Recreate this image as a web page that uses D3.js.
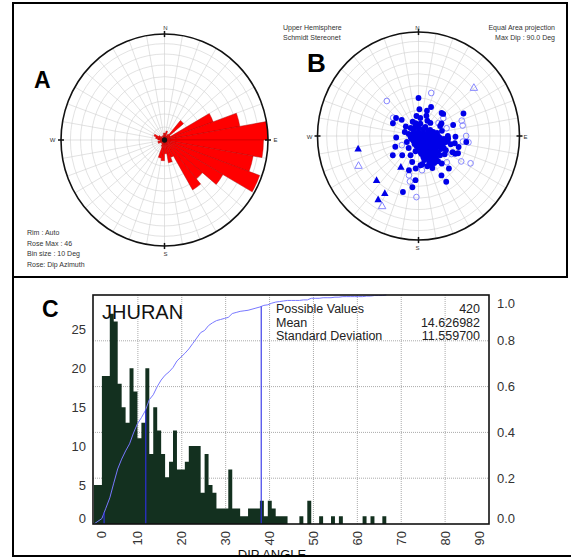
<!DOCTYPE html>
<html>
<head>
<meta charset="utf-8">
<script src="https://cdn.jsdelivr.net/npm/d3@7"></script>
<style>
body { margin: 0; background: #fff; }
text { font-family: "Liberation Sans", Arial, sans-serif; }
</style>
</head>
<body>
<script>
// ---- A: rose of dip azimuth, counts per 10 deg bin (0-10 ... 350-360)
var roseCounts = [3,4,2,3,11,3,23,34,46,44,40,45,30,22,25,8,10,6,9,8,3,2,1,2,3,3,2,3,4,5,3,2,1,2,2,3];
var roseMax = 46;
var roseInfo = ["Rim : Auto", "Rose Max : 46", "Bin size : 10 Deg", "Rose: Dip Azimuth"];

// ---- B: poles [azimuth, dip]
var filledCircles = [[0,30],[24,25],[2,21],[19,21],[46,26],[64,41],[308,23],[313,18.5],[296,23],[306,12.6],
  [347,10.3],[43,14],[62,21],[91,30],[266,18],[246,20.5],[234,25.7],[221,20],[203,16.3],[194,21],
  [185,25.7],[196,28],[184,35],[187,41],[196,46.6],[149,36.4],[148,43],[136,35.7],[113,35],[101,30],
  [97,39.4],[105,33.8],[94,24],[139,28.7],[157,25],[176,23],[115,33],[49,26.5],[73,29.4],
  [315,8.9],[343,8.2],[9,9.6],[38,9],[63,10.5],[281,8],[301,4.6],[0,3.1],[59,4.6],[79,8],
  [86,11.8],[90,15.7],[247,6],[225,2.2],[124,2.8],[111,6.7],[103,10.5],[102.5,14.5],[102,18.5],[102,22.6],
  [207,7],[172,5.6],[143,7.9],[129,11.2],[119,14.5],[115,18.3],[115,22.6],[180,10.2],[159,10.9],[144,13.5],
  [135,16.7],[129,20.2],[170.5,14.3],[157,16.2],[147,18.8],[141,22.4],[166,19.4],[157,22.2],[149,24.8],[90,23.7],
  [104,26.9],[78,19.3],[243,10.5],[6,14.2],[31,13.8],[337,12],[172,22.3],[156,27.6],[286,11.5],[220,12.3],
  [124,25.6],[66,19.1],[354,15.8],[22,17],[115,30.5],
  [324.5,6.8],[0,6.3],[35.5,6.8],[63.4,8.8],[75,12.2],[81,15.1],[262.9,6.4],[270,2.4],[90,1.6],[90,5.5],
  [90,9.4],[93.4,13.4],[95.2,17.4],[96.6,20.7],[225,5.6],[180,3.9],[135,5.6],[121,9.2],[111.8,12.7],[109.3,16.7],
  [107.7,20.7],[191.3,8],[163.3,8.2],[144,10.7],[130.2,13.4],[123.7,17],[119.5,20.8],[172.9,12.7],[156.4,13.8],[144.8,16.4],
  [136.6,19.6],[130.8,23],[166.6,17],[155.6,19.1],[146.9,21.7],[163.3,24.8],[141.3,25.3],[191.3,12.1],[97.6,23.9],[116.6,24.8]];
var openCircles = [[17,35.6],[317,38],[305,25],[55,24.5],[71,37.3],[77,37],[75,23.5],[90,39],[97,41.3],[242,15.2],
  [120,40.4],[117,48.3],[132,31],[194,32],[191,36.7],[182,49.1],[174,27],[58,19],[97,36.5],[118,30.3]];
var filledTriangles = [[258,51.2],[224,50],[211,54.5],[213,62.5],[210,28.6]];
var openTriangles = [[50,60.8],[244,55.7],[208,65.7]];

// ---- C: dip angle histogram, 0.9 deg bins from 0
var binSize = 0.9;
var dipCounts = [5,5,19,19,27,26,18,15,13,20, 17,11,13,20,9,15,12,9,6,8,
  12,7,7,8,10,10,10,4,9,5, 4,2,2,2,7,2,2,1,1,2, 2,2,3,1,3,2,1,1,1,0,
  0,0,1,0,3,0,0,1,0,0, 1,0,1,0,0,0,0,0,1,0, 1,0,0,1];
var pctLevels = [0.05, 0.5, 0.95];
var pctDips = [2.3, 11.8, 38.1];
var xTicks = [0,10,20,30,40,50,60,70,80,90];
var countTicks = [0,5,10,15,20,25];
var fracTicks = [0,0.2,0.4,0.6,0.8,1.0];
var statNames = ["Possible Values", "Mean", "Standard Deviation"];
var statValues = ["420", "14.626982", "11.559700"];

var svg = d3.select("body").append("svg")
  .attr("width", 571).attr("height", 557);

svg.append("rect").attr("width", 571).attr("height", 557).attr("fill", "#fff");

var rad = Math.PI / 180;

// ---------- stereonet grid helper
function netGrid(g, R) {
  var ea = d3.scaleLinear().domain([0, 1]).range([0, R]);
  var rings = d3.range(10, 90, 10);
  g.selectAll(".ring").data(rings).enter().append("circle")
    .attr("r", function(d) { return ea(Math.SQRT2 * Math.sin(d / 2 * rad)); })
    .attr("fill", "none").attr("stroke", "#cfcfcf").attr("stroke-width", 0.6);
  g.selectAll(".spoke").data(d3.range(0, 360, 10)).enter().append("line")
    .attr("x1", 0).attr("y1", 0)
    .attr("x2", function(d) { return R * Math.sin(d * rad); })
    .attr("y2", function(d) { return -R * Math.cos(d * rad); })
    .attr("stroke", "#cfcfcf").attr("stroke-width", 0.6);
}
function netRim(g, R) {
  g.append("circle").attr("r", R).attr("fill", "none").attr("stroke", "#111").attr("stroke-width", 1.6);
  [0, 90, 180, 270].forEach(function(a) {
    g.append("line")
      .attr("x1", (R - 3) * Math.sin(a * rad)).attr("y1", -(R - 3) * Math.cos(a * rad))
      .attr("x2", (R + 3) * Math.sin(a * rad)).attr("y2", -(R + 3) * Math.cos(a * rad))
      .attr("stroke", "#111").attr("stroke-width", 1.5);
  });
}
function compass(cx, cy, pos) {
  var names = ["N", "E", "S", "W"];
  names.forEach(function(n, i) {
    svg.append("text").attr("x", cx + pos[i][0]).attr("y", cy + pos[i][1])
      .attr("text-anchor", "middle").attr("dy", "0.35em")
      .attr("font-size", 6).attr("fill", "#333").text(n);
  });
}

// ---------- A: rose
var RA = 103.5;
var gA = svg.append("g").attr("transform", "translate(164.5,140) scale(1,1.024)");
netGrid(gA, RA);
var rRose = d3.scaleLinear().domain([0, roseMax]).range([0, RA]);
var arc = d3.arc()
  .innerRadius(0)
  .outerRadius(function(d) { return rRose(d); })
  .startAngle(function(d, i) { return i * 10 * rad; })
  .endAngle(function(d, i) { return (i + 1) * 10 * rad; });
gA.selectAll(".petal").data(roseCounts).enter().append("path")
  .attr("d", function(d, i) { return arc(d, i); })
  .attr("fill", "#ff0000").attr("stroke", "#b00000").attr("stroke-width", 0.4);
gA.append("circle").attr("r", 2.6).attr("fill", "#111");
netRim(gA, RA);
compass(164.5, 140, [[1, -112], [111, 0], [1, 114], [-112, 0]]);

svg.selectAll(".rinfo").data(roseInfo).enter().append("text")
  .attr("x", 27).attr("y", function(d, i) { return 235 + i * 10.7; })
  .attr("font-size", 7).attr("fill", "#333").text(function(d) { return d; });

// ---------- B: stereonet
var RB = 101;
var gB = svg.append("g").attr("transform", "translate(418.5,136) scale(1,1.03)");
netGrid(gB, RB);
netRim(gB, RB);
var ea = d3.scaleLinear().domain([0, 1]).range([0, RB]);
function px(d) { return ea(Math.SQRT2 * Math.sin(d[1] / 2 * rad)) * Math.sin(d[0] * rad); }
function py(d) { return -ea(Math.SQRT2 * Math.sin(d[1] / 2 * rad)) * Math.cos(d[0] * rad); }
var tri = d3.symbol().type(d3.symbolTriangle).size(24);

gB.selectAll(".oc").data(openCircles).enter().append("circle")
  .attr("cx", px).attr("cy", py).attr("r", 2.8)
  .attr("fill", "none").attr("stroke", "#7b7bff").attr("stroke-width", 0.9);
gB.selectAll(".ot").data(openTriangles).enter().append("path")
  .attr("d", tri).attr("transform", function(d) { return "translate(" + px(d) + "," + py(d) + ")"; })
  .attr("fill", "none").attr("stroke", "#7b7bff").attr("stroke-width", 0.9);
gB.selectAll(".fc").data(filledCircles).enter().append("circle")
  .attr("cx", px).attr("cy", py).attr("r", 2.9).attr("fill", "#0000e8");
gB.selectAll(".ft").data(filledTriangles).enter().append("path")
  .attr("d", tri).attr("transform", function(d) { return "translate(" + px(d) + "," + py(d) + ")"; })
  .attr("fill", "#0000e8");
compass(418.5, 136, [[-1, -108], [107, 1], [-1, 112], [-109, 1]]);

svg.append("text").attr("x", 283).attr("y", 30).attr("font-size", 7).attr("fill", "#333").text("Upper Hemisphere");
svg.append("text").attr("x", 283).attr("y", 40).attr("font-size", 7).attr("fill", "#333").text("Schmidt Stereonet");
svg.append("text").attr("x", 555).attr("y", 30).attr("font-size", 7).attr("fill", "#333").attr("text-anchor", "end").text("Equal Area projection");
svg.append("text").attr("x", 555).attr("y", 40).attr("font-size", 7).attr("fill", "#333").attr("text-anchor", "end").text("Max Dip : 90.0 Deg");

// panel letters
function letter(t, x, y, s) {
  svg.append("text").attr("x", x).attr("y", y).attr("font-size", s)
    .attr("font-family", "'DejaVu Sans', sans-serif").attr("font-weight", "bold")
    .attr("fill", "#000").text(t);
}
letter("A", 34, 88, 23);
letter("B", 307, 72, 26);
letter("C", 42, 317, 23);

// ---------- C: histogram
var x = d3.scaleLinear().domain([0, 90]).range([94, 489]);
var yL = d3.scaleLinear().domain([0, 29.4]).range([524, 295]);
var yR = d3.scaleLinear().domain([0, 1]).range([524, 295]);

var gC = svg.append("g");
gC.selectAll(".vg").data(xTicks.slice(1, -1)).enter().append("line")
  .attr("x1", function(d) { return x(d); }).attr("x2", function(d) { return x(d); })
  .attr("y1", 295).attr("y2", 524)
  .attr("stroke", "#aaa").attr("stroke-width", 1).attr("stroke-dasharray", "1,1");
gC.selectAll(".hg").data(fracTicks.slice(1, -1)).enter().append("line")
  .attr("x1", 93).attr("x2", 489)
  .attr("y1", function(d) { return yR(d); }).attr("y2", function(d) { return yR(d); })
  .attr("stroke", "#aaa").attr("stroke-width", 1).attr("stroke-dasharray", "1,1");

// histogram as one stepped area
var stepPts = dipCounts.map(function(c, i) { return [i * binSize, c]; })
  .concat([[dipCounts.length * binSize, 0]]);
gC.append("path").datum(stepPts)
  .attr("d", d3.area().curve(d3.curveStepAfter)
    .x(function(d) { return x(d[0]); })
    .y0(yL(0))
    .y1(function(d) { return yL(d[1]); }))
  .attr("fill", "#13301f");

// cumulative curve
var total = d3.sum(dipCounts);
var cum = Array.from(d3.cumsum(dipCounts));
var cumPts = [[0, 0]].concat(cum.map(function(c, i) { return [(i + 1) * binSize, c / total]; }));
gC.append("path").datum(cumPts)
  .attr("d", d3.line().x(function(d) { return x(d[0]); }).y(function(d) { return yR(d[1]); }))
  .attr("fill", "none").attr("stroke", "#7878ff").attr("stroke-width", 1);

gC.selectAll(".pct").data(pctDips).enter().append("line")
  .attr("x1", function(d) { return x(d); }).attr("x2", function(d) { return x(d); })
  .attr("y1", yR(0)).attr("y2", function(d, i) { return yR(pctLevels[i]); })
  .attr("stroke", "#3030e8").attr("stroke-width", 1.1);

gC.append("rect").attr("x", 93).attr("y", 295).attr("width", 396).attr("height", 229)
  .attr("fill", "none").attr("stroke", "#111").attr("stroke-width", 1.6);

gC.selectAll(".lt").data(countTicks).enter().append("text")
  .attr("x", 86).attr("y", function(d) { return Math.min(yL(d), 518); })
  .attr("dy", "0.35em").attr("text-anchor", "end")
  .attr("font-size", 13).attr("fill", "#333").text(function(d) { return d; });
gC.selectAll(".rt").data(fracTicks).enter().append("text")
  .attr("x", 497).attr("y", function(d) { return Math.max(303, Math.min(yR(d), 518)); })
  .attr("dy", "0.35em")
  .attr("font-size", 13).attr("fill", "#333").text(function(d) { return d.toFixed(1); });
gC.selectAll(".xt").data(xTicks).enter().append("text")
  .attr("transform", function(d) {
    return "translate(" + Math.max(101, Math.min(x(d), 479)) + ",531) rotate(-90)";
  })
  .attr("dy", "0.35em").attr("text-anchor", "end")
  .attr("font-size", 13).attr("fill", "#333").text(function(d) { return d; });

gC.append("text").attr("x", 272).attr("y", 559).attr("text-anchor", "middle")
  .attr("font-size", 13).attr("fill", "#111").text("DIP ANGLE");
gC.append("text").attr("x", 102).attr("y", 319)
  .attr("font-size", 20).attr("fill", "#111").text("JHURAN");

gC.selectAll(".sn").data(statNames).enter().append("text")
  .attr("x", 276).attr("y", function(d, i) { return 313 + i * 13.5; })
  .attr("font-family", "'DejaVu Sans', sans-serif")
  .attr("font-size", 12.5).attr("fill", "#222").text(function(d) { return d; });
gC.selectAll(".sv").data(statValues).enter().append("text")
  .attr("x", 480).attr("y", function(d, i) { return 313 + i * 13.5; })
  .attr("text-anchor", "end").attr("font-family", "'DejaVu Sans', sans-serif")
  .attr("font-size", 12.5).attr("fill", "#222").text(function(d) { return d; });

// panel frames
svg.append("rect").attr("x", 13).attr("y", 3).attr("width", 554).attr("height", 274)
  .attr("fill", "none").attr("stroke", "#000").attr("stroke-width", 2);
svg.append("path").attr("d", "M13,277V556H575")
  .attr("fill", "none").attr("stroke", "#000").attr("stroke-width", 2);
</script>
</body>
</html>
